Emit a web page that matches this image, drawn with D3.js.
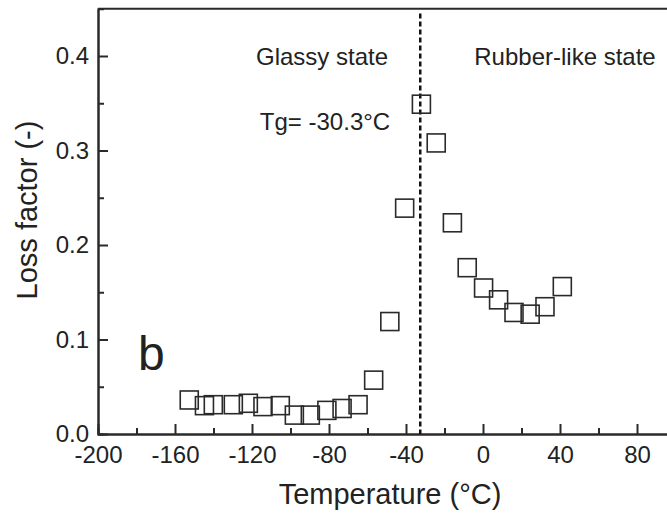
<!DOCTYPE html>
<html lang="en">
<head>
<meta charset="UTF-8">
<title>Loss factor vs temperature</title>
<script src="https://d3js.org/d3.v7.min.js"></script>
<style>
  body { margin: 0; background: #fff; }
  text { font-family: "Liberation Sans", Arial, sans-serif; fill: #222; }
</style>
</head>
<body>
<svg id="chart" width="667" height="518"></svg>
<script>
// data
const temperature = [-152.6, -144.7, -140.1, -129.7, -121.9, -114.3, -105.3, -98.0, -89.7, -81.1, -73.2, -64.9,
  -56.8, -48.4, -40.7, -32.0, -24.3, -15.9, -8.2, 0.3, 8.1, 16.1, 24.5, 32.2, 41.2];
const lossFactor = [0.036, 0.030, 0.031, 0.031, 0.0325, 0.029, 0.030, 0.020, 0.020, 0.025, 0.027, 0.031,
  0.057, 0.119, 0.239, 0.349, 0.308, 0.2235, 0.176, 0.1545, 0.142, 0.1286, 0.1268, 0.1347, 0.156];
const xTicks = [-200, -160, -120, -80, -40, 0, 40, 80];
const yTicks = [0.0, 0.1, 0.2, 0.3, 0.4];
const tgLine = -32.6;

const svg = d3.select("#chart");
const x = d3.scaleLinear().domain([-200, 100]).range([98, 98 + 300 * 1.925]);
const y = d3.scaleLinear().domain([0, 0.45]).range([434, 434 - 0.45 * 945]);
const ink = "#2a2a2a";

// bottom axis, ticks inward (plain hyphen for negatives like the original)
const xAxis = svg.append("g").attr("transform", "translate(0,434)")
  .call(d3.axisBottom(x).tickValues(xTicks).tickSizeInner(-10).tickSizeOuter(0)
    .tickFormat(d => String(d)).tickPadding(12));
const xMinor = svg.append("g").attr("transform", "translate(0,434)")
  .call(d3.axisBottom(x).tickValues(d3.range(-180, 100, 40)).tickSize(-6).tickFormat(""));

const yAxis = svg.append("g").attr("transform", "translate(98,0)")
  .call(d3.axisLeft(y).tickValues(yTicks).tickSizeInner(-10).tickSizeOuter(0)
    .tickFormat(d => d.toFixed(1)).tickPadding(9));
const yMinor = svg.append("g").attr("transform", "translate(98,0)")
  .call(d3.axisLeft(y).tickValues([0.05, 0.15, 0.25, 0.35]).tickSize(-6).tickFormat(""));

[xAxis, xMinor, yAxis, yMinor].forEach(a => {
  a.selectAll("path.domain").attr("stroke", ink).attr("stroke-width", 2);
  a.selectAll(".tick line").attr("stroke", ink).attr("stroke-width", 2);
  a.selectAll(".tick text").style("font-size", "24px").attr("fill", ink)
    .style("font-family", "'Liberation Sans', Arial, sans-serif");
});
xAxis.selectAll(".tick text").attr("dy", "0.71em");

// top border
svg.append("line")
  .attr("x1", 98).attr("x2", 667)
  .attr("y1", y(0.45)).attr("y2", y(0.45))
  .attr("stroke", ink).attr("stroke-width", 2);

// Tg dashed line
svg.append("line")
  .attr("x1", x(tgLine)).attr("x2", x(tgLine))
  .attr("y1", y(0.445)).attr("y2", y(0))
  .attr("stroke", "#111").attr("stroke-width", 2.5)
  .attr("stroke-dasharray", "5,3");

// data squares
const s = 18;
svg.append("g").selectAll("rect")
  .data(temperature.map((t, i) => ({ t, v: lossFactor[i] })))
  .join("rect")
  .attr("x", d => x(d.t) - s / 2)
  .attr("y", d => y(d.v) - s / 2)
  .attr("width", s).attr("height", s)
  .attr("fill", "none")
  .attr("stroke", ink)
  .attr("stroke-width", 1.6);

// annotations
svg.append("text").attr("x", 322).attr("y", 65).attr("text-anchor", "middle")
  .style("font-size", "24px").text("Glassy state");
svg.append("text").attr("x", 325).attr("y", 130).attr("text-anchor", "middle")
  .style("font-size", "24px").text("Tg= -30.3°C");
svg.append("text").attr("x", 565).attr("y", 65).attr("text-anchor", "middle")
  .style("font-size", "24px").text("Rubber-like state");
svg.append("text").attr("x", 138).attr("y", 370)
  .style("font-size", "48px").text("b");

// axis titles
svg.append("text").attr("x", 390).attr("y", 504).attr("text-anchor", "middle")
  .style("font-size", "29px").text("Temperature (°C)");
svg.append("text").attr("transform", "translate(37,210) rotate(-90)")
  .attr("text-anchor", "middle")
  .style("font-size", "29px").text("Loss factor (-)");
</script>
</body>
</html>
